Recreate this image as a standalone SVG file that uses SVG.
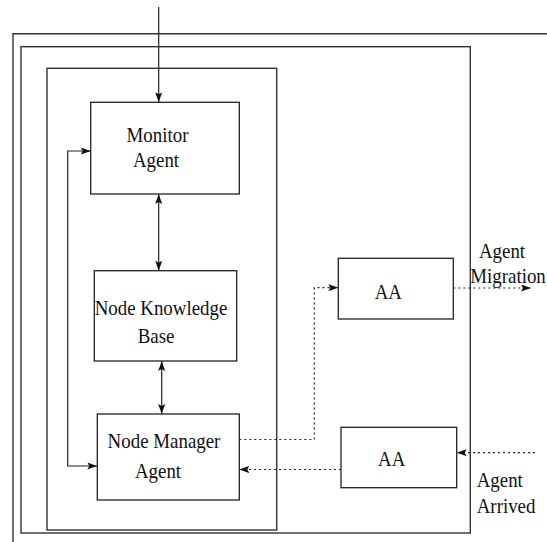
<svg xmlns="http://www.w3.org/2000/svg" width="547" height="542" viewBox="0 0 547 542">
<style>
.frame{fill:none;stroke:#333;stroke-width:1.4}
.box{fill:#fff;stroke:#222;stroke-width:1.3}
.lbl{font-family:"Liberation Serif","Times New Roman",serif;font-size:21px;fill:#111;text-anchor:middle}
.lbl2{font-family:"Liberation Serif","Times New Roman",serif;font-size:21px;fill:#111;text-anchor:start}
.solid{fill:none;stroke:#222;stroke-width:1.2}
.dot{fill:none;stroke:#222;stroke-width:1.2;stroke-dasharray:2 3}
</style>
<defs>
<marker id="ah" markerUnits="userSpaceOnUse" markerWidth="10" markerHeight="7" refX="10" refY="3.5" orient="auto-start-reverse">
<path d="M0,0 L10,3.5 L0,7 L2,3.5 z" fill="#111"/>
</marker>
</defs>
<rect width="547" height="542" fill="#fff"/>
<g id="frames">
<path class="frame" d="M13 542 V33.7 H547"/>
<rect class="frame" x="21" y="46.7" width="449.3" height="486.3"/>
<rect class="frame" x="47" y="68.3" width="229.7" height="461.7"/>
</g>
<g id="connectors">
<line class="solid" x1="158.7" y1="7" x2="158.7" y2="102.3" marker-end="url(#ah)"/>
<line class="solid" x1="158.7" y1="194" x2="158.7" y2="270.7" marker-start="url(#ah)" marker-end="url(#ah)"/>
<line class="solid" x1="161.7" y1="361" x2="161.7" y2="414" marker-start="url(#ah)" marker-end="url(#ah)"/>
<path class="solid" d="M90.7 151 H67.7 V466 H97.3" marker-start="url(#ah)" marker-end="url(#ah)"/>
<path class="dot" d="M239.3 439.5 H314.3 V287.7 H338.3" marker-end="url(#ah)"/>
<path class="dot" d="M453.3 288 H531" marker-end="url(#ah)"/>
<path class="dot" d="M535 452.7 H456.7" marker-end="url(#ah)"/>
<path class="dot" d="M341 469.5 H239.3" marker-end="url(#ah)"/>
</g>
<g id="monitor-agent">
<rect class="box" x="90.7" y="102.3" width="148.6" height="91.7"/>
<text class="lbl" transform="translate(157.5 141.7) scale(0.9 1)">Monitor</text>
<text class="lbl" transform="translate(156 166.7) scale(0.9 1)">Agent</text>
</g>
<g id="node-knowledge-base">
<rect class="box" x="94.3" y="270.7" width="142.4" height="90.3"/>
<text class="lbl" transform="translate(161 315) scale(0.9 1)">Node Knowledge</text>
<text class="lbl" transform="translate(156 343) scale(0.9 1)">Base</text>
</g>
<g id="node-manager-agent">
<rect class="box" x="97.3" y="414" width="142" height="86"/>
<text class="lbl" transform="translate(164 448) scale(0.9 1)">Node Manager</text>
<text class="lbl" transform="translate(158 478) scale(0.9 1)">Agent</text>
</g>
<g id="aa-top">
<rect class="box" x="338.3" y="258.3" width="115" height="60.7"/>
<text class="lbl" transform="translate(388.3 299) scale(0.9 1)">AA</text>
</g>
<g id="aa-bottom">
<rect class="box" x="341" y="427.3" width="115.7" height="60.4"/>
<text class="lbl" transform="translate(391.7 466) scale(0.9 1)">AA</text>
</g>
<g id="labels">
<text class="lbl" transform="translate(502 258) scale(0.9 1)">Agent</text>
<text class="lbl" transform="translate(508 283) scale(0.9 1)">Migration</text>
<text class="lbl2" transform="translate(476.7 486.7) scale(0.9 1)">Agent</text>
<text class="lbl2" transform="translate(476.7 513) scale(0.9 1)">Arrived</text>
</g>
</svg>
